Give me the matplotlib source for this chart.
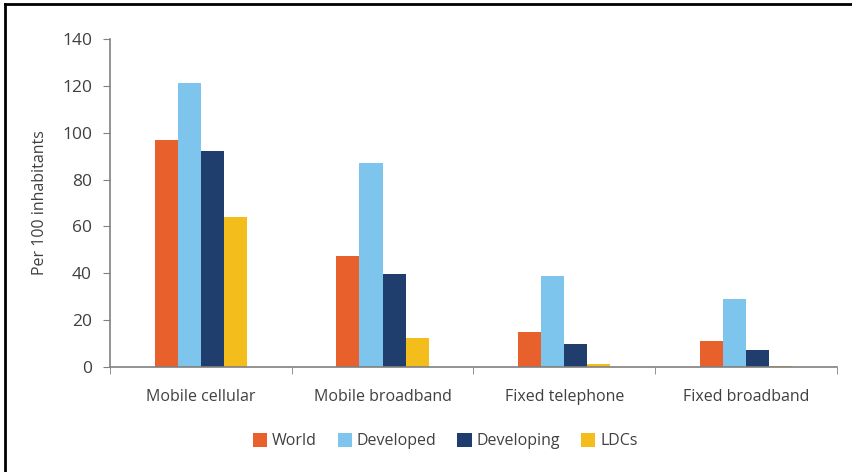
import numpy as np
import matplotlib.pyplot as plt
from matplotlib.lines import Line2D

categories = ["Mobile cellular", "Mobile broadband", "Fixed telephone", "Fixed broadband"]
series = ["World", "Developed", "Developing", "LDCs"]
world = [97, 47.5, 14.8, 11.2]
developed = [121.3, 87, 39, 28.9]
developing = [92.3, 39.7, 9.7, 7.3]
ldcs = [63.9, 12.5, 1.3, 0.6]
colors = ["#E8612C", "#7DC5EC", "#1F3E6E", "#F3BD1C"]

plt.rcParams['font.family'] = ['Open Sans', 'DejaVu Sans']

fig = plt.figure(figsize=(8.53, 4.72), dpi=100)
ax = fig.add_axes([0.129, 0.2225, 0.852, 0.695])

x = np.arange(len(categories))
w = 0.127
for i, (vals, name, c) in enumerate(zip([world, developed, developing, ldcs], series, colors)):
    ax.bar(x + (i - 1.5) * w, vals, width=w, color=c, label=name)

ax.set_xlim(-0.5, len(categories) - 0.5)
ax.set_ylim(0, 140)
ax.set_yticks(range(0, 141, 20))
ax.set_xticks(x)
ax.set_xticklabels(categories, fontsize=11.5, color="#404040")
ax.set_xticks(np.arange(-0.5, len(categories)), minor=True)
ax.tick_params(axis="x", which="major", length=0, pad=16)
ax.tick_params(axis="x", which="minor", length=5, direction="out", color="#808080")
ax.tick_params(axis="y", length=5, direction="out", color="#808080", labelsize=12.5,
               labelcolor="#404040", pad=8)
for s in ["top", "right"]:
    ax.spines[s].set_visible(False)
for s in ["left", "bottom"]:
    ax.spines[s].set_color("#808080")
    ax.spines[s].set_linewidth(1.2)
ax.set_ylabel("Per 100 inhabitants", fontsize=11.5, color="#404040", labelpad=10)

fig.legend(loc="center", bbox_to_anchor=(0.522, 0.065), ncol=4, frameon=False,
           fontsize=11.5, handlelength=0.9, handleheight=0.9, handletextpad=0.3,
           columnspacing=1.3, labelcolor="#404040")

# frame lines of the original image (left and top)
fig.add_artist(Line2D([5.5 / 853, 5.5 / 853], [0, 1 - 4 / 472], color="black", lw=2,
                      transform=fig.transFigure))
fig.add_artist(Line2D([5.5 / 853, 1], [1 - 4 / 472, 1 - 4 / 472], color="black", lw=2,
                      transform=fig.transFigure))

fig.savefig("out.png", dpi=100)
